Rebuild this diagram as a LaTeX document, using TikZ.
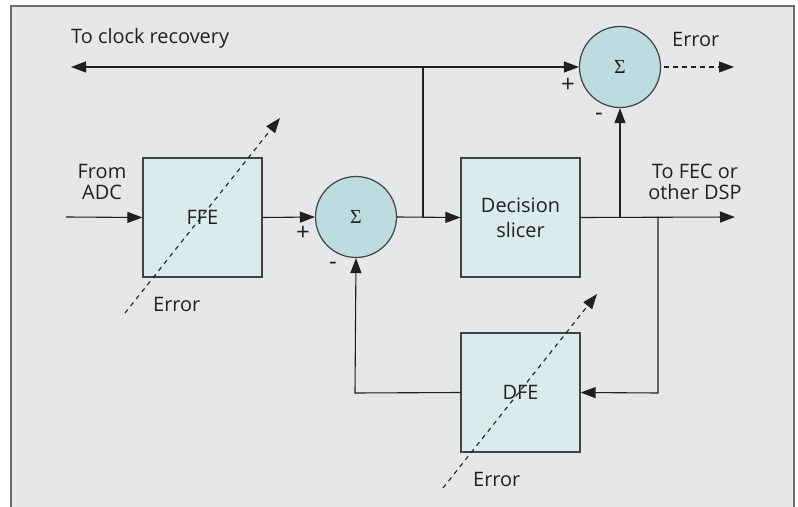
\documentclass[tikz,border=0pt]{standalone}
\usepackage{fontspec}
\setmainfont{Open Sans}
\newfontfamily\sigfont{Liberation Serif}
\usetikzlibrary{arrows.meta}
\definecolor{bgc}{HTML}{E6E7E9}
\definecolor{boxc}{HTML}{DAEBEE}
\definecolor{circc}{HTML}{BCDCDF}
\definecolor{linec}{HTML}{231F20}
\definecolor{framec}{HTML}{6D6E70}
\tikzset{
  blk/.style={draw=linec!85, line width=1.2bp, fill=boxc, minimum width=119bp, minimum height=119bp, inner sep=0pt, font=\fontsize{20}{25}\selectfont, text=linec, align=center},
  sumc/.style={circle, draw=linec!85, line width=1.2bp, fill=circc, minimum size=81bp, inner sep=0pt, font=\sigfont\fontsize{20}{22}\selectfont, text=linec},
  wire/.style={draw=linec, line width=1.1bp},
  arr/.style={wire, -{Triangle[length=15bp,width=11bp]}},
  dsh/.style={draw=linec, line width=1.1bp, dash pattern=on 4.5bp off 4.5bp},
  darr/.style={dsh, -{Triangle[length=15bp,width=11bp]}},
  lbl/.style={font=\fontsize{20}{21}\selectfont, text=linec, inner sep=0pt, align=center},
  sgn/.style={font=\fontsize{24}{26}\selectfont, text=linec, inner sep=0pt}
}
\begin{document}
\begin{tikzpicture}[x=1bp,y=-1bp]
\useasboundingbox (0,0) rectangle (798,507);
\fill[bgc] (11,6) rectangle (794,507);
\draw[framec, line width=1.2bp] (11,507) -- (11,6) -- (794,6) -- (794,507);
% blocks
\node[blk] (ffe) at (202.5,217.5) {FFE};
\node[sumc] (sum1) at (356,217) {Σ};
\node[blk] (slicer) at (520.5,217.5) {Decision\\slicer};
\node[sumc] (sum2) at (620,67) {Σ};
\node[blk] (dfe) at (520.5,392.5) {DFE};
% coordinates
\coordinate (in) at (66,217);
\coordinate (clk) at (71,67);
\coordinate (tap) at (423,217);
\coordinate (tapT) at (423,67);
\coordinate (out) at (735,217);
\coordinate (j1) at (620,217);
\coordinate (j2) at (658,217);
\coordinate (j2b) at (658,393);
\coordinate (j3) at (355,393);
\coordinate (errout) at (734,67);
\coordinate (fa) at (125,313);
\coordinate (fb) at (280,118);
\coordinate (da) at (443,488);
\coordinate (db) at (597,294);
% wires
\draw[arr] (in) -- (ffe.west);
\draw[arr] (ffe.east) -- (sum1.west);
\draw[arr] (sum1.east) -- (slicer.west);
\draw[wire] (tap) -- (tapT);
\draw[wire, {Triangle[length=15bp,width=11bp]}-{Triangle[length=15bp,width=11bp]}] (clk) -- (sum2.west);
\draw[arr] (slicer.east) -- (out);
\draw[arr] (j1) -- (sum2.south);
\draw[arr] (j2) -- (j2b) -- (dfe.east);
\draw[arr] (dfe.west) -- (j3) -- (sum1.south);
\draw[darr] ([xshift=3bp]sum2.east) -- (errout);
\draw[darr] (fa) -- (fb);
\draw[darr] (da) -- (db);
% labels
\node[lbl, anchor=west] (lclk) at (71,38) {To clock recovery};
\node[lbl] (ladc) at (102,182) {From\\ADC};
\node[lbl, anchor=west] (lerr2) at (672,39) {Error};
\node[lbl] (lfec) at (695,182) {To FEC or\\other DSP};
\node[lbl, anchor=west] (lerr1) at (153,304) {Error};
\node[lbl, anchor=west] (lerr3) at (473,479) {Error};
\node[sgn] (p1) at (303,233) {+};
\node[sgn] (m1) at (333,266) {-};
\node[sgn] (p2) at (568,85) {+};
\node[sgn] (m2) at (599,117) {-};
\end{tikzpicture}
\end{document}
